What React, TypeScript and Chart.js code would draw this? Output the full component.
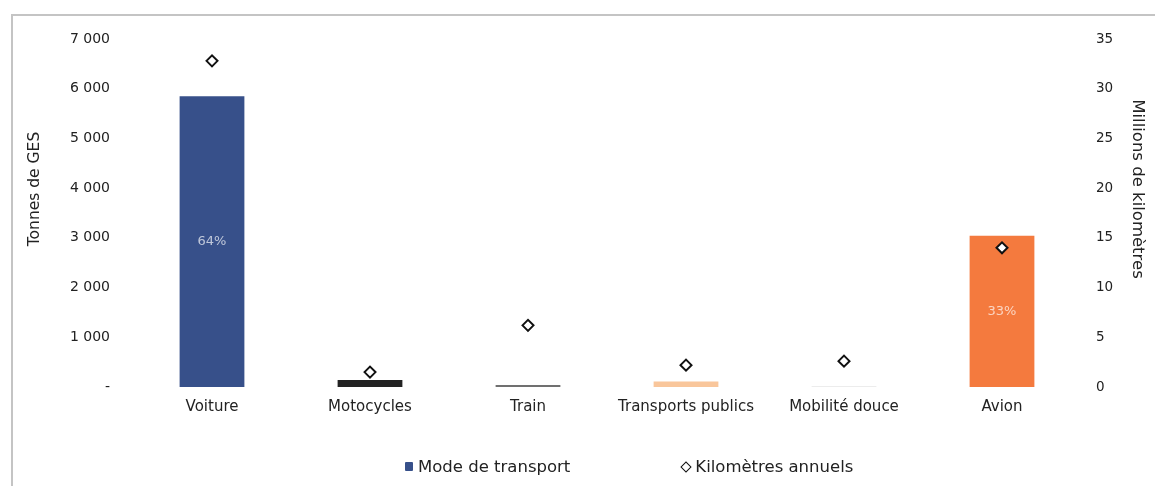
import { useEffect, useRef } from "react";
import { Chart, registerables } from "chart.js";

Chart.register(...registerables);

// Transport modes on the category axis
const categories = [
  "Voiture",
  "Motocycles",
  "Train",
  "Transports publics",
  "Mobilité douce",
  "Avion",
];

// Greenhouse-gas emissions per mode (tonnes)
const emissions = [5850, 140, 40, 110, 20, 3040];

// Annual distance travelled per mode (millions of km)
const kilometres = [32.8, 1.5, 6.2, 2.2, 2.6, 14.0];

const barColors = ["#37508A", "#222222", "#707070", "#F9C69B", "#ECECEC", "#F47A3E"];

// Left axis labels, French thousands grouping, zero shown as a dash
const ghgTickLabels = ["-", "1 000", "2 000", "3 000", "4 000", "5 000", "6 000", "7 000"];

const FONT = "'DejaVu Sans', sans-serif";

const shareLabels = {
  id: "shareLabels",
  afterDatasetDraw(chart: any, args: any) {
    if (args.index !== 0) return;
    const ctx = chart.ctx;
    const total = emissions.reduce((a, b) => a + b, 0);
    const meta = chart.getDatasetMeta(0);
    ctx.save();
    ctx.font = `13px ${FONT}`;
    ctx.fillStyle = "rgba(255,255,255,0.68)";
    ctx.textAlign = "center";
    ctx.textBaseline = "middle";
    meta.data.forEach((bar: any, i: number) => {
      const pct = (emissions[i] / total) * 100;
      if (pct < 10) return;
      const { x, y, base } = bar.getProps(["x", "y", "base"], true);
      ctx.fillText(`${Math.round(pct)}%`, x, (y + base) / 2);
    });
    ctx.restore();
  },
};

const axisTitles = {
  id: "axisTitles",
  afterDraw(chart: any) {
    const { ctx, chartArea } = chart;
    const midY = (chartArea.top + chartArea.bottom) / 2 - 24;
    ctx.save();
    ctx.font = `15.5px ${FONT}`;
    ctx.fillStyle = "#222";
    ctx.textAlign = "center";
    ctx.textBaseline = "middle";
    ctx.translate(chartArea.left - 98, midY);
    ctx.rotate(-Math.PI / 2);
    ctx.fillText("Tonnes de GES", 0, 0);
    ctx.restore();

    ctx.save();
    ctx.font = `16.5px ${FONT}`;
    ctx.fillStyle = "#222";
    ctx.textAlign = "center";
    ctx.textBaseline = "middle";
    ctx.translate(chartArea.right + 56, midY);
    ctx.rotate(Math.PI / 2);
    ctx.fillText("Millions de kilomètres", 0, 0);
    ctx.restore();
  },
};

export default function App() {
  const canvasRef = useRef<HTMLCanvasElement | null>(null);

  useEffect(() => {
    document.body.style.margin = "0";
    const canvas = canvasRef.current;
    if (!canvas) return;
    const chart = new Chart(canvas, {
      type: "bar",
      data: {
        labels: categories,
        datasets: [
          {
            type: "bar",
            label: "Mode de transport",
            data: emissions,
            backgroundColor: barColors,
            yAxisID: "y",
            order: 1,
            categoryPercentage: 1,
            barPercentage: 0.41,
          },
          {
            type: "line",
            label: "Kilomètres annuels",
            data: kilometres,
            yAxisID: "y1",
            showLine: false,
            pointStyle: "rectRot",
            pointRadius: 5.5,
            pointBorderWidth: 2,
            pointBorderColor: "#111",
            pointBackgroundColor: "#fff",
            order: 0,
          } as any,
        ],
      },
      options: {
        animation: false,
        responsive: false,
        maintainAspectRatio: false,
        layout: { padding: { top: 39, left: 0, right: 0, bottom: 0 } },
        plugins: {
          legend: { display: false },
          tooltip: { enabled: false },
        },
        scales: {
          x: {
            grid: { display: false, drawTicks: false },
            border: { display: false },
            ticks: {
              color: "#222",
              font: { family: FONT, size: 15 },
              padding: 11,
              maxRotation: 0,
            },
            afterFit: (scale: any) => {
              scale.height = 99;
            },
          },
          y: {
            position: "left",
            min: 0,
            max: 7000,
            grid: { display: false, drawTicks: false },
            border: { display: false },
            ticks: {
              stepSize: 1000,
              color: "#222",
              font: { family: FONT, size: 14 },
              padding: 23,
              callback: (_v: any, i: number) => ghgTickLabels[i],
            },
            afterFit: (scale: any) => {
              scale.width = 133;
            },
          },
          y1: {
            position: "right",
            min: 0,
            max: 35,
            grid: { display: false, drawTicks: false },
            border: { display: false },
            ticks: {
              stepSize: 5,
              color: "#222",
              font: { family: FONT, size: 13.5 },
              padding: 15,
            },
            afterFit: (scale: any) => {
              scale.width = 74;
            },
          },
        },
      },
      plugins: [shareLabels, axisTitles],
    });
    return () => chart.destroy();
  }, []);

  return (
    <div style={{ position: "relative", width: 1155, height: 486, background: "#fff", overflow: "hidden" }}>
      <div
        style={{
          position: "absolute",
          left: 11,
          top: 14,
          width: 1300,
          height: 600,
          borderTop: "2px solid #c4c4c4",
          borderLeft: "2px solid #c4c4c4",
        }}
      />
      <canvas ref={canvasRef} width={1155} height={486} style={{ position: "absolute", left: 0, top: 0 }} />
      <div
        style={{
          position: "absolute",
          left: 405,
          top: 457,
          display: "flex",
          alignItems: "center",
          fontFamily: FONT,
          fontSize: 16.5,
          color: "#222",
          whiteSpace: "nowrap",
        }}
      >
        <span style={{ display: "inline-block", width: 8, height: 9, background: barColors[0], marginRight: 5, borderRadius: 1 }} />
        <span>Mode de transport</span>
        <span
          style={{
            display: "inline-block",
            width: 6,
            height: 6,
            border: "1.5px solid #111",
            transform: "rotate(45deg)",
            marginLeft: 112,
            marginRight: 5,
          }}
        />
        <span>Kilomètres annuels</span>
      </div>
    </div>
  );
}
